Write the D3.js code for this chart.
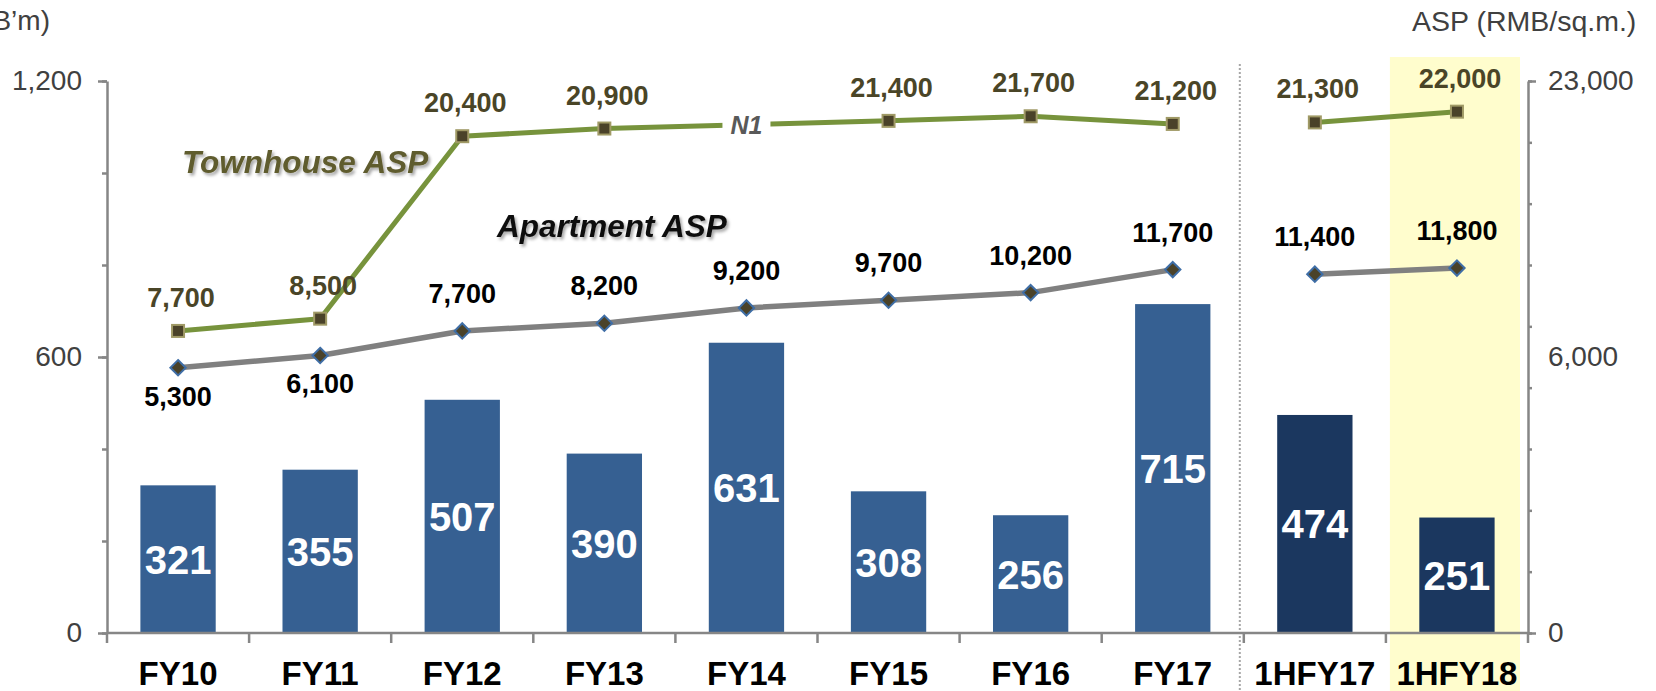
<!DOCTYPE html>
<html>
<head>
<meta charset="utf-8">
<script src="https://cdn.jsdelivr.net/npm/d3@7"></script>
<style>
  html, body { margin: 0; padding: 0; background: #fff; }
  svg { display: block; font-family: "Liberation Sans", Arial, sans-serif; }
</style>
</head>
<body>
<div id="chart"></div>
<script>
// data
const categories    = ["FY10", "FY11", "FY12", "FY13", "FY14", "FY15", "FY16", "FY17", "1HFY17", "1HFY18"];
const revenue       = [321, 355, 507, 390, 631, 308, 256, 715, 474, 251];
const townhouseAsp  = [7700, 8500, 20400, 20900, null, 21400, 21700, 21200, 21300, 22000];
const apartmentAsp  = [5300, 6100, 7700, 8200, 9200, 9700, 10200, 11700, 11400, 11800];
const halfYears     = ["1HFY17", "1HFY18"];
const highlighted   = "1HFY18";
const aptLabelBelow = ["FY10", "FY11"];
const hiddenLabel   = {category: "FY14", text: "N1"};

const revTicks      = [0, 200, 400, 600, 800, 1000, 1200];
const revLabels     = [0, 600, 1200];
const aspTicks      = [-12000, -8000, -4000, 0, 4000, 8000, 12000, 16000, 20000, 24000];
const aspLabelPos   = [-12000, 6000, 24000];
const aspLabelText  = ["0", "6,000", "23,000"];

const W = 1656, H = 691;
const plot = {left: 107, right: 1528, top: 81, bottom: 633};

const svg = d3.select("#chart").append("svg")
  .attr("width", W).attr("height", H);

const defs = svg.append("defs");
defs.append("filter").attr("id", "shadow")
  .attr("x", "-10%").attr("y", "-30%").attr("width", "130%").attr("height", "170%")
  .append("feDropShadow")
    .attr("dx", 2).attr("dy", 2.5).attr("stdDeviation", 1.5)
    .attr("flood-color", "#000").attr("flood-opacity", 0.35);

const x = d3.scaleBand().domain(categories).range([plot.left, plot.right])
  .paddingInner(0.47).paddingOuter(0.235);
const gap = (x.step() - x.bandwidth()) / 2;
const cx = c => x(c) + x.bandwidth() / 2;

const yRev = d3.scaleLinear().domain([0, 1200]).range([plot.bottom, plot.top]);
const yAsp = d3.scaleLinear().domain([-12000, 24000]).range([plot.bottom, plot.top]);

const axisColor = "#868686";
const textGray = "#404040";

// highlight for latest period
svg.append("rect")
  .attr("x", x(highlighted) - gap + 4)
  .attr("y", 57)
  .attr("width", x.step() - 12)
  .attr("height", H - 57)
  .attr("fill", "#FFFDCD");

// dotted separator between full years and half years
const sepX = x(halfYears[0]) - gap - 4;
svg.append("line")
  .attr("x1", sepX).attr("x2", sepX).attr("y1", 64).attr("y2", H)
  .attr("stroke", "#A6A6A6").attr("stroke-width", 2)
  .attr("stroke-dasharray", "2,2");

// bars
const barData = categories.map((c, i) => ({c: c, v: revenue[i]}));
svg.selectAll("rect.bar").data(barData).enter().append("rect")
  .attr("class", "bar")
  .attr("x", d => x(d.c))
  .attr("y", d => yRev(d.v))
  .attr("width", x.bandwidth())
  .attr("height", d => yRev(0) - yRev(d.v))
  .attr("fill", d => halfYears.includes(d.c) ? "#1B375F" : "#366092");

svg.selectAll("text.barlabel").data(barData).enter().append("text")
  .attr("class", "barlabel")
  .attr("x", d => cx(d.c))
  .attr("y", d => (yRev(d.v) + yRev(0)) / 2)
  .attr("dy", "0.36em")
  .attr("text-anchor", "middle")
  .attr("fill", "#fff")
  .attr("font-weight", "bold")
  .attr("font-size", 40)
  .text(d => d3.format(",")(d.v));

// axes
function styleAxis(g) {
  g.select(".domain").attr("stroke", axisColor).attr("stroke-width", 2.5);
  g.selectAll(".tick line").attr("stroke", axisColor).attr("stroke-width", 2.5);
  g.selectAll(".tick text").attr("fill", textGray).attr("font-size", 28)
    .attr("font-family", "Liberation Sans, Arial, sans-serif");
}

svg.append("g").attr("transform", `translate(${plot.left},0)`)
  .call(d3.axisLeft(yRev).tickValues(revTicks).tickSize(5).tickSizeOuter(0).tickFormat(""))
  .call(styleAxis);
svg.append("g").attr("transform", `translate(${plot.left},0)`)
  .call(d3.axisLeft(yRev).tickValues(revLabels).tickSize(9).tickSizeOuter(0)
    .tickPadding(16).tickFormat(d3.format(",")))
  .call(styleAxis)
  .call(g => g.select(".domain").remove());

svg.append("g").attr("transform", `translate(${plot.right},0)`)
  .call(d3.axisRight(yAsp).tickValues(aspTicks).tickSize(4).tickSizeOuter(0).tickFormat(""))
  .call(styleAxis);
svg.append("g").attr("transform", `translate(${plot.right},0)`)
  .call(d3.axisRight(yAsp).tickValues([aspTicks[0], aspTicks[aspTicks.length - 1]])
    .tickSize(8).tickSizeOuter(0).tickFormat(""))
  .call(styleAxis)
  .call(g => g.select(".domain").remove());
svg.append("g").attr("transform", `translate(${plot.right},0)`)
  .call(d3.axisRight(yAsp).tickValues(aspLabelPos).tickSize(0).tickPadding(20)
    .tickFormat((d, i) => aspLabelText[i]))
  .call(styleAxis)
  .call(g => g.select(".domain").remove());

// x axis: line, boundary ticks, labels
const bounds = categories.map(c => x(c) - gap).concat([plot.right]);
svg.append("line")
  .attr("x1", plot.left).attr("x2", plot.right).attr("y1", plot.bottom).attr("y2", plot.bottom)
  .attr("stroke", axisColor).attr("stroke-width", 2.5);
svg.selectAll("line.xtick").data(bounds).enter().append("line")
  .attr("class", "xtick")
  .attr("x1", d => d).attr("x2", d => d)
  .attr("y1", plot.bottom).attr("y2", plot.bottom + 10)
  .attr("stroke", axisColor).attr("stroke-width", 2.5);

svg.append("g").attr("transform", `translate(0,${plot.bottom})`)
  .call(d3.axisBottom(x).tickSize(0).tickPadding(29))
  .call(g => g.select(".domain").remove())
  .call(g => g.selectAll(".tick text")
    .attr("fill", "#000").attr("font-size", 33).attr("font-weight", "bold")
    .attr("font-family", "Liberation Sans, Arial, sans-serif"));

// axis titles
svg.append("text")
  .attr("x", 50).attr("y", 30)
  .attr("text-anchor", "end")
  .attr("fill", textGray).attr("font-size", 28)
  .text("(RMB’m)");
svg.append("text")
  .attr("x", 1412).attr("y", 31)
  .attr("fill", textGray).attr("font-size", 28.5)
  .text("ASP (RMB/sq.m.)");

// ASP lines
const full = categories.filter(c => !halfYears.includes(c));
function segments(values) {
  const pts = categories.map((c, i) => ({c: c, v: values[i]})).filter(d => d.v != null);
  return [pts.filter(d => full.includes(d.c)), pts.filter(d => halfYears.includes(d.c))];
}
const line = d3.line().x(d => cx(d.c)).y(d => yAsp(d.v));

const townSegs = segments(townhouseAsp);
const aptSegs = segments(apartmentAsp);

svg.selectAll("path.apt").data(aptSegs).enter().append("path")
  .attr("class", "apt")
  .attr("d", line)
  .attr("fill", "none").attr("stroke", "#808080").attr("stroke-width", 5.5)
  .attr("stroke-linejoin", "round");

svg.selectAll("path.town").data(townSegs).enter().append("path")
  .attr("class", "town")
  .attr("d", line)
  .attr("fill", "none").attr("stroke", "#77933C").attr("stroke-width", 5)
  .attr("stroke-linejoin", "round");

// "N1" placeholder label sitting on the townhouse line
{
  const segPts = townSegs[0];
  const i = categories.indexOf(hiddenLabel.category);
  const prev = segPts.filter(d => categories.indexOf(d.c) < i).pop();
  const next = segPts.find(d => categories.indexOf(d.c) > i);
  const t = (cx(hiddenLabel.category) - cx(prev.c)) / (cx(next.c) - cx(prev.c));
  const ly = yAsp(prev.v) + t * (yAsp(next.v) - yAsp(prev.v));
  svg.append("rect")
    .attr("x", cx(hiddenLabel.category) - 24).attr("y", ly - 11)
    .attr("width", 48).attr("height", 22).attr("fill", "#fff");
  svg.append("text")
    .attr("x", cx(hiddenLabel.category)).attr("y", ly).attr("dy", "0.36em")
    .attr("text-anchor", "middle")
    .attr("fill", "#595959").attr("font-size", 25)
    .attr("font-weight", "bold").attr("font-style", "italic")
    .text(hiddenLabel.text);
}

// markers
const aptPts = aptSegs.flat();
const townPts = townSegs.flat();

svg.selectAll("path.aptmark").data(aptPts).enter().append("path")
  .attr("class", "aptmark")
  .attr("transform", d => `translate(${cx(d.c)},${yAsp(d.v)})`)
  .attr("d", d3.symbol(d3.symbolDiamond2, 150))
  .attr("fill", "#4A4229").attr("stroke", "#3F6EA6").attr("stroke-width", 2);

svg.selectAll("rect.townmark").data(townPts).enter().append("rect")
  .attr("class", "townmark")
  .attr("x", d => cx(d.c) - 6).attr("y", d => yAsp(d.v) - 6)
  .attr("width", 12).attr("height", 12)
  .attr("fill", "#4A4229").attr("stroke", "#A09A66").attr("stroke-width", 2);

// value labels
svg.selectAll("text.townval").data(townPts).enter().append("text")
  .attr("class", "townval")
  .attr("x", d => cx(d.c) + 3).attr("y", d => yAsp(d.v) - 24)
  .attr("text-anchor", "middle")
  .attr("fill", "#4A4527").attr("font-size", 27).attr("font-weight", "bold")
  .text(d => d3.format(",")(d.v));

svg.selectAll("text.aptval").data(aptPts).enter().append("text")
  .attr("class", "aptval")
  .attr("x", d => cx(d.c))
  .attr("y", d => aptLabelBelow.includes(d.c) ? yAsp(d.v) + 38 : yAsp(d.v) - 28)
  .attr("text-anchor", "middle")
  .attr("fill", "#000").attr("font-size", 27).attr("font-weight", "bold")
  .text(d => d3.format(",")(d.v));

// series names
svg.append("text")
  .attr("x", 182).attr("y", 173)
  .attr("fill", "#5F5B2E").attr("font-size", 31.5)
  .attr("font-weight", "bold").attr("font-style", "italic")
  .attr("filter", "url(#shadow)")
  .text("Townhouse ASP");
svg.append("text")
  .attr("x", 497).attr("y", 237)
  .attr("fill", "#111").attr("font-size", 31.5)
  .attr("font-weight", "bold").attr("font-style", "italic")
  .attr("filter", "url(#shadow)")
  .text("Apartment ASP");
</script>
</body>
</html>
